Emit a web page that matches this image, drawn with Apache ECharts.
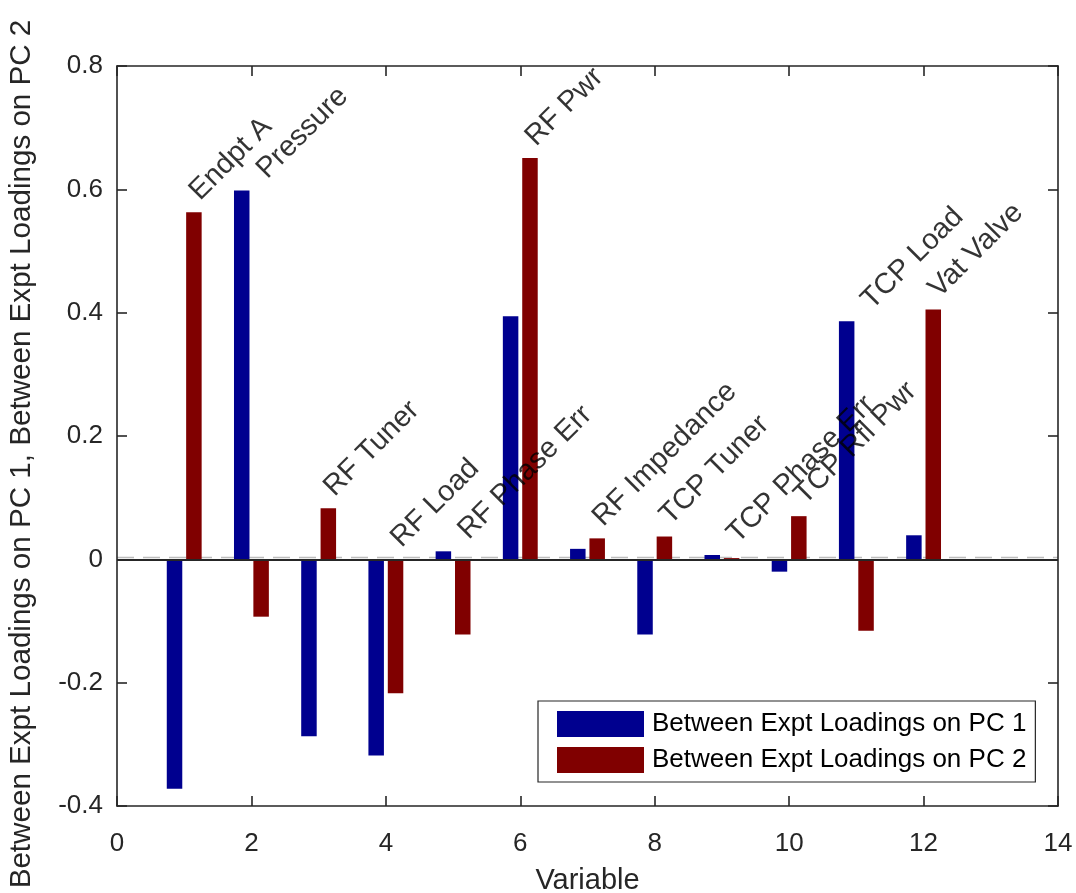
<!DOCTYPE html>
<html>
<head>
<meta charset="utf-8">
<script src="https://cdn.jsdelivr.net/npm/echarts@6/dist/echarts.min.js"></script>
<style>
  html, body { margin: 0; padding: 0; background: #ffffff; }
  #chart { width: 1076px; height: 893px; }
</style>
</head>
<body>
<div id="chart"></div>
<script>
// Process variables (numbered 1..12) and their names
const variableIds = [1, 2, 3, 4, 5, 6, 7, 8, 9, 10, 11, 12];
const variableNames = [
  'Endpt A', 'Pressure', 'RF Tuner', 'RF Load', 'RF Phase Err', 'RF Pwr',
  'RF Impedance', 'TCP Tuner', 'TCP Phase Err', 'TCP Rfl Pwr', 'TCP Load', 'Vat Valve'
];

// Between-experiment loadings on the first two principal components
const pc1Loadings = [-0.372, 0.598, -0.287, -0.318, 0.013, 0.394, 0.017, -0.122, 0.007, -0.020, 0.386, 0.039];
const pc2Loadings = [0.563, -0.093, 0.083, -0.217, -0.122, 0.651, 0.034, 0.037, 0.002, 0.070, -0.116, 0.405];

const seriesNames = ['Between Expt Loadings on PC 1', 'Between Expt Loadings on PC 2'];

// Axis ticks
const xTickValues = [0, 2, 4, 6, 8, 10, 12, 14];
const xTickLabels = ['0', '2', '4', '6', '8', '10', '12', '14'];
const yTickValues = [-0.4, -0.2, 0, 0.2, 0.4, 0.6, 0.8];
const yTickLabels = ['-0.4', '-0.2', '0', '0.2', '0.4', '0.6', '0.8'];

const xAxisTitle = 'Variable';
const yAxisTitle = seriesNames.join(', ');

// ---- styling ----
const FONT = '"Liberation Sans", Arial, Helvetica, sans-serif';
const AXIS_COLOR = '#262626';
const PC1_COLOR = '#00008f';
const PC2_COLOR = '#800000';
const NAME_LIFT = 0.027;   // names sit a little above the taller bar of each pair
const NAME_SHIFT = 0.15;   // and slightly to the right of the variable position

const xMin = xTickValues[0], xMax = xTickValues[xTickValues.length - 1];
const xStep = xTickValues[1] - xTickValues[0];
const yMin = yTickValues[0], yMax = yTickValues[yTickValues.length - 1];
const yStep = 0.2;

function labelFor(values, labels) {
  return function (v) {
    let best = 0;
    for (let i = 1; i < values.length; i++) {
      if (Math.abs(values[i] - v) < Math.abs(values[best] - v)) best = i;
    }
    return labels[best];
  };
}

const lineStyle = { color: AXIS_COLOR, width: 1.6 };

function xAxisDef(position, withLabels) {
  return {
    type: 'value', min: xMin, max: xMax, interval: xStep, position: position,
    axisLine: { show: true, onZero: false, lineStyle: lineStyle },
    axisTick: { show: true, inside: true, length: 10, lineStyle: lineStyle },
    axisLabel: {
      show: withLabels, fontSize: 26, color: AXIS_COLOR, fontFamily: FONT, margin: 25,
      formatter: labelFor(xTickValues, xTickLabels)
    },
    splitLine: { show: false },
    name: withLabels ? xAxisTitle : '',
    nameLocation: 'middle', nameGap: 60,
    nameTextStyle: { fontSize: 29, color: AXIS_COLOR, fontFamily: FONT }
  };
}

function yAxisDef(position, withLabels) {
  return {
    type: 'value', min: yMin, max: yMax, interval: yStep, position: position,
    axisLine: { show: true, onZero: false, lineStyle: lineStyle },
    axisTick: { show: true, inside: true, length: 10, lineStyle: lineStyle },
    axisLabel: {
      show: withLabels, fontSize: 26, color: AXIS_COLOR, fontFamily: FONT, margin: 14,
      formatter: labelFor(yTickValues, yTickLabels)
    },
    splitLine: { show: false },
    name: withLabels ? yAxisTitle : '',
    nameLocation: 'middle', nameGap: 80,
    nameTextStyle: { fontSize: 29.6, color: AXIS_COLOR, fontFamily: FONT, padding: [0, 36, 0, 0] }
  };
}

// Name markers: one per variable, placed above the higher of the two loadings (or above zero)
const nameAnchors = variableIds.map((id, i) => [id + NAME_SHIFT, Math.max(0, pc1Loadings[i], pc2Loadings[i]) + NAME_LIFT]);

const chart = echarts.init(document.getElementById('chart'), null, { renderer: 'canvas' });

const option = {
  animation: false,
  backgroundColor: '#ffffff',
  textStyle: { fontFamily: FONT },
  grid: { left: 117, top: 66, width: 941, height: 740, containLabel: false, outerBoundsMode: 'none' },
  legend: {
    show: true,
    orient: 'vertical',
    left: 538, top: 701,
    data: seriesNames,
    icon: 'rect',
    itemWidth: 87, itemHeight: 26, itemGap: 10,
    padding: [10, 9, 9, 19],
    borderColor: AXIS_COLOR, borderWidth: 1.2,
    backgroundColor: '#ffffff',
    selectedMode: false,
    textStyle: { fontSize: 26, color: '#000000', fontFamily: FONT, padding: [0, 0, 0, 3] }
  },
  xAxis: [xAxisDef('bottom', true), xAxisDef('top', false)],
  yAxis: [yAxisDef('left', true), yAxisDef('right', false)],
  series: [
    {
      type: 'bar', name: seriesNames[0],
      xAxisIndex: 0, yAxisIndex: 0,
      data: variableIds.map((id, i) => [id, pc1Loadings[i]]),
      barWidth: 15.5, barGap: '25%',
      itemStyle: { color: PC1_COLOR },
      z: 2,
      markLine: {
        silent: true, symbol: 'none', animation: false,
        label: { show: false },
        lineStyle: { color: AXIS_COLOR, width: 1.8, type: 'solid' },
        data: [{ yAxis: 0 }],
        z: 5
      }
    },
    {
      type: 'bar', name: seriesNames[1],
      xAxisIndex: 0, yAxisIndex: 0,
      data: variableIds.map((id, i) => [id, pc2Loadings[i]]),
      barWidth: 15.5, barGap: '25%',
      itemStyle: { color: PC2_COLOR },
      z: 2
    },
    {
      type: 'scatter', name: 'variable names',
      xAxisIndex: 0, yAxisIndex: 0,
      data: nameAnchors,
      symbolSize: 0,
      silent: true,
      label: {
        show: true,
        position: 'inside',
        rotate: 45,
        align: 'left',
        verticalAlign: 'middle',
        fontSize: 29,
        color: '#000000',
        fontFamily: FONT,
        formatter: p => variableNames[p.dataIndex]
      },
      z: 6
    }
  ]
};

chart.setOption(option);

// Light dashed reference line sitting just above the zero baseline, behind the bars
const y0 = chart.convertToPixel({ yAxisIndex: 0 }, 0);
const xL = chart.convertToPixel({ xAxisIndex: 0 }, xMin);
const xR = chart.convertToPixel({ xAxisIndex: 0 }, xMax);
chart.setOption({
  graphic: [{
    type: 'line', z: 0, silent: true,
    shape: { x1: xL, y1: y0 - 1.8, x2: xR, y2: y0 - 1.8 },
    style: { stroke: '#bdbdbd', lineWidth: 1.6, lineDash: [17, 9] }
  }]
});
</script>
</body>
</html>
